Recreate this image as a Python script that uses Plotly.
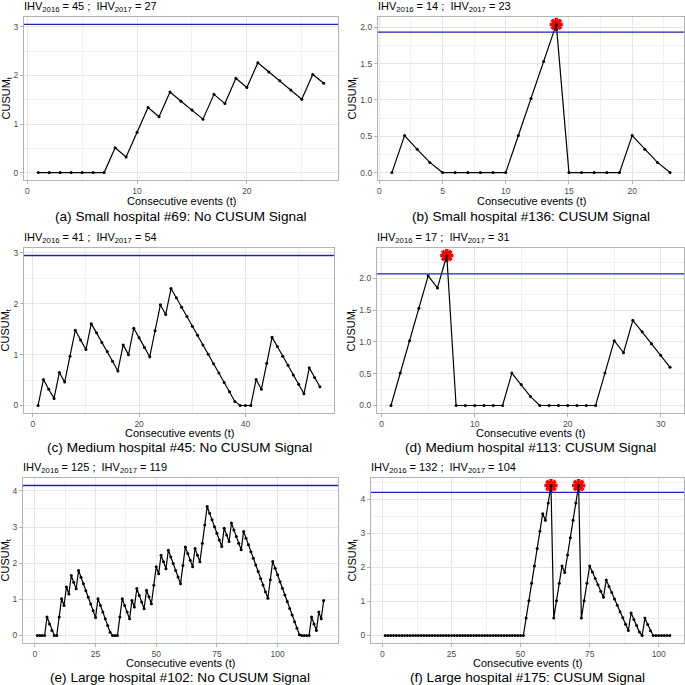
import plotly.graph_objects as go

# ---------------- data ----------------
a_vals = [0, 0, 0, 0, 0, 0, 0, 0.51, 0.32, 0.83, 1.34, 1.15, 1.66, 1.47, 1.29, 1.10,
          1.61, 1.42, 1.94, 1.75, 2.26, 2.07, 1.89, 1.70, 1.51, 2.02, 1.84]
b_vals = [0, 0.51, 0.32, 0.14, 0, 0, 0, 0, 0, 0, 0.51, 1.02, 1.53, 2.04, 0, 0, 0, 0, 0,
          0.51, 0.32, 0.14, 0]
c_vals = [0, 0.51, 0.32, 0.14, 0.65, 0.46, 0.97, 1.48, 1.29, 1.10, 1.61, 1.43, 1.24, 1.06,
          0.87, 0.68, 1.19, 1.00, 1.52, 1.33, 1.14, 0.96, 1.47, 1.98, 1.79, 2.30, 2.12,
          1.93, 1.75, 1.56, 1.38, 1.19, 1.01, 0.82, 0.64, 0.45, 0.27, 0.08, 0, 0, 0, 0.51,
          0.32, 0.83, 1.34, 1.16, 0.97, 0.79, 0.60, 0.42, 0.23, 0.74, 0.55, 0.37]
d_vals = [0, 0.51, 1.02, 1.53, 2.04, 1.85, 2.36, 0, 0, 0, 0, 0, 0, 0.51, 0.33, 0.14, 0,
          0, 0, 0, 0, 0, 0, 0.51, 1.02, 0.83, 1.34, 1.16, 0.97, 0.79, 0.60]
e_vals = [0, 0, 0, 0, 0.51, 0.32, 0.14, 0, 0,
          0.51, 1.02, 0.83, 1.34, 1.15, 1.66, 1.47, 1.29, 1.80,
          1.61, 1.43, 1.24, 1.06, 0.87, 0.69, 0.50,
          1.02, 0.83, 0.65, 0.46, 0.28, 0.09, 0, 0, 0,
          0.51, 1.02, 0.83, 0.65, 0.46, 0.97, 0.79, 1.30, 1.11, 0.93, 0.74, 1.25, 1.07,
          0.88, 1.39, 1.90, 1.71, 2.22, 2.04, 1.85, 2.36,
          2.17, 1.99, 1.80, 1.62, 1.43, 1.94, 2.45, 2.27, 2.08, 1.90, 2.41, 2.22, 2.04,
          2.55, 3.06, 3.57,
          3.38, 3.20, 3.01, 2.83, 2.64, 2.46, 2.97, 2.78, 2.60, 3.11, 2.92, 2.74, 2.55,
          2.37, 2.88,
          2.69, 2.51, 2.32, 2.14, 1.95, 1.77, 1.58, 1.40, 1.21, 1.03, 1.54, 2.05,
          1.86, 1.68, 1.49, 1.31, 1.12, 0.94, 0.75, 0.57, 0.38, 0.20, 0.02, 0, 0, 0, 0,
          0.51, 0.32, 0.14, 0.65, 0.46, 0.97]
f_vals = [0] * 51 + [
    0.51, 1.02, 1.53, 2.04, 2.55, 3.06, 3.57, 3.38, 3.89, 4.40,
    0.51, 1.02, 1.53, 2.04, 1.85, 2.36, 2.87, 3.38, 3.89, 4.40,
    0.51, 1.02, 1.53, 2.04, 1.86, 1.67, 1.49, 1.30, 1.12, 1.63,
    1.44, 1.26, 1.07, 0.89, 0.70, 0.52, 0.33, 0.15, 0.66, 0.47, 0.29, 0.10, 0,
    0.51, 0.32, 0.14, 0] + [0] * 6

series = [a_vals, b_vals, c_vals, d_vals, e_vals, f_vals]
thresholds = [3.05, 1.935, 2.95, 2.07, 4.15, 4.20]
signal_events = [[], [14], [], [7], [], [61, 71]]
ihv_2016 = [45, 14, 41, 17, 125, 132]
ihv_2017 = [27, 23, 54, 31, 119, 104]
panel_labels = [
    "(a) Small hospital #69: No CUSUM Signal",
    "(b) Small hospital #136: CUSUM Signal",
    "(c) Medium hospital #45: No CUSUM Signal",
    "(d) Medium hospital #113: CUSUM Signal",
    "(e) Large hospital #102: No CUSUM Signal",
    "(f) Large hospital #175: CUSUM Signal",
]
x_dticks = [10, 5, 20, 10, 25, 25]
y_dticks = [1, 0.5, 1, 0.5, 1, 1]
y_formats = ["d", ".1f", "d", ".1f", "d", "d"]

# ---------------- layout geometry (pixels) ----------------
W = H = 685
boxes = [(24, 338, 17, 180), (378, 684, 17, 180),
         (24, 334, 248, 413), (377, 684, 248, 413),
         (23, 338, 478, 643), (371, 684, 478, 643)]
ytitle_off = [18, 26, 18, 25, 18, 19]
xtitle_off = [21, 21, 20, 20, 20, 20]
caption_off = [36, 36, 34.5, 34.5, 34, 34]

FONT = "Liberation Sans, Arial, Helvetica, sans-serif"
GRID = "#E6E6E6"
MINOR = "#F0F0F0"
BORDER = "#B3B3B3"
TICKTXT = "#4D4D4D"


def px(x):
    return x / W


def py(y):
    return 1 - y / H


fig = go.Figure()
annotations = []
shapes = []

for i, vals in enumerate(series):
    k = i + 1
    suf = "" if k == 1 else str(k)
    n = len(vals)
    t = list(range(1, n + 1))
    x0, x1, y0, y1 = boxes[i]

    xr = [1 - 0.05 * (n - 1), n + 0.05 * (n - 1)]
    ymax = max(max(vals), thresholds[i])
    yr = [-0.05 * ymax, ymax * 1.05]

    # signal stars
    if signal_events[i]:
        sx = signal_events[i]
        sy = [vals[s - 1] for s in sx]
        fig.add_trace(go.Scatter(
            x=sx, y=sy, mode="markers", xaxis="x" + suf, yaxis="y" + suf,
            marker=dict(symbol="asterisk-open", size=11, color="#FF0000",
                        line=dict(color="#FF0000", width=3.5)),
            hoverinfo="skip", showlegend=False))

    fig.add_trace(go.Scatter(
        x=t, y=vals, mode="lines+markers", xaxis="x" + suf, yaxis="y" + suf,
        line=dict(color="black", width=1.2),
        marker=dict(color="black", size=3),
        showlegend=False))

    # threshold line
    shapes.append(dict(type="line", xref="x" + suf + " domain", yref="y" + suf,
                       x0=0, x1=1, y0=thresholds[i], y1=thresholds[i],
                       line=dict(color="#2323A8", width=1.3), layer="above"))

    common = dict(showline=True, mirror=True, linecolor=BORDER, linewidth=1.2,
                  ticks="outside", ticklen=3, tickcolor=BORDER, tickwidth=1,
                  showgrid=True, gridcolor=GRID, gridwidth=1, zeroline=False,
                  tickfont=dict(family=FONT, size=8.5, color=TICKTXT))
    fig.update_layout(**{
        "xaxis" + suf: dict(domain=[px(x0), px(x1)], anchor="y" + suf, range=xr,
                            tick0=0, dtick=x_dticks[i],
                            minor=dict(dtick=x_dticks[i] / 2, tick0=0, showgrid=True,
                                       gridcolor=MINOR, gridwidth=0.6),
                            **common),
        "yaxis" + suf: dict(domain=[py(y1), py(y0)], anchor="x" + suf, range=yr,
                            tick0=0, dtick=y_dticks[i], tickformat=y_formats[i],
                            minor=dict(dtick=y_dticks[i] / 2, tick0=0, showgrid=True,
                                       gridcolor=MINOR, gridwidth=0.6),
                            **common),
    })

    # IHV title
    annotations.append(dict(
        x=px(x0 - 2), y=py(y0 - 10), xref="paper", yref="paper",
        xanchor="left", yanchor="middle", showarrow=False,
        text=f"IHV<sub>2016</sub> = {ihv_2016[i]} ;  IHV<sub>2017</sub> = {ihv_2017[i]}",
        font=dict(family=FONT, size=11, color="black")))
    # y axis title
    annotations.append(dict(
        x=px(x0 - ytitle_off[i]), y=py((y0 + y1) / 2), xref="paper", yref="paper",
        xanchor="center", yanchor="middle", showarrow=False, textangle=-90,
        text="CUSUM<sub>t</sub>", font=dict(family=FONT, size=11, color="black")))
    # x axis title
    annotations.append(dict(
        x=px((x0 + x1) / 2), y=py(y1 + xtitle_off[i]), xref="paper", yref="paper",
        xanchor="center", yanchor="middle", showarrow=False,
        text="Consecutive events (t)", font=dict(family=FONT, size=11, color="black")))
    # caption
    annotations.append(dict(
        x=px((x0 + x1) / 2), y=py(y1 + caption_off[i]), xref="paper", yref="paper",
        xanchor="center", yanchor="middle", showarrow=False,
        text=panel_labels[i], font=dict(family=FONT, size=13.6, color="black")))

fig.update_layout(
    width=W, height=H, margin=dict(l=0, r=0, t=0, b=0),
    paper_bgcolor="white", plot_bgcolor="white",
    annotations=annotations, shapes=shapes, showlegend=False,
)

fig.write_html("out.html", config={"displayModeBar": False},
               post_script="document.body.style.margin='0';document.body.style.overflow='hidden';")
